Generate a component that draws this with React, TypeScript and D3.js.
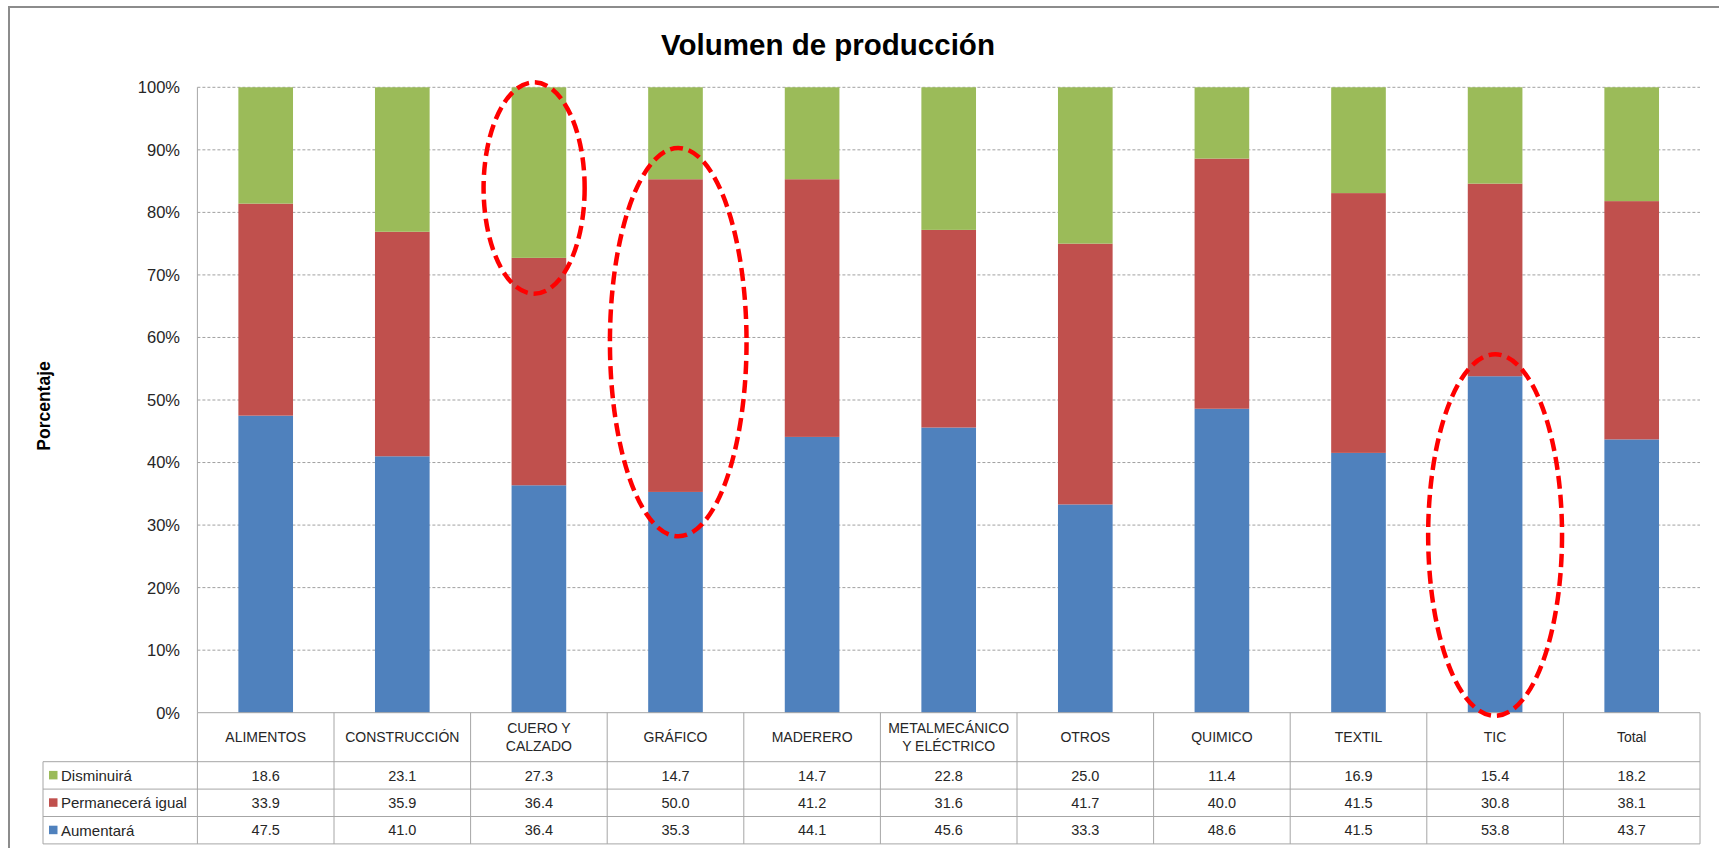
import React from "react";
import * as d3 from "d3";

// ---- Data ----
const categories = [
  "ALIMENTOS",
  "CONSTRUCCIÓN",
  "CUERO Y\nCALZADO",
  "GRÁFICO",
  "MADERERO",
  "METALMECÁNICO\nY ELÉCTRICO",
  "OTROS",
  "QUIMICO",
  "TEXTIL",
  "TIC",
  "Total",
];
const disminuira = [18.6, 23.1, 27.3, 14.7, 14.7, 22.8, 25.0, 11.4, 16.9, 15.4, 18.2];
const permanecera = [33.9, 35.9, 36.4, 50.0, 41.2, 31.6, 41.7, 40.0, 41.5, 30.8, 38.1];
const aumentara = [47.5, 41.0, 36.4, 35.3, 44.1, 45.6, 33.3, 48.6, 41.5, 53.8, 43.7];
const seriesNames = ["Disminuirá", "Permanecerá igual", "Aumentará"];
const yTicks = [0, 10, 20, 30, 40, 50, 60, 70, 80, 90, 100];

// highlighted regions (category index, percentage range)
const highlights = [
  { cat: 2, from: 67.0, to: 100.8, half: 0.37, shift: -0.035 },
  { cat: 3, from: 28.2, to: 90.3, half: 0.5, shift: 0.02 },
  { cat: 9, from: -0.5, to: 57.3, half: 0.49, shift: 0.0 },
];

const COLORS: Record<string, string> = {
  "Aumentará": "#4F81BD",
  "Permanecerá igual": "#C0504D",
  "Disminuirá": "#9BBB59",
};

const W = 1719;
const H = 848;
const FONT = "'Liberation Sans', Arial, sans-serif";

export default function App() {
  const plotLeft = 197.4;
  const plotRight = 1700;
  const yTop = 87.3;
  const yBottom = 712.7;
  const tableLeft = 43;
  const headerBottom = 761.7;
  const rowH = 27.4;

  const x = d3
    .scaleBand<number>()
    .domain(d3.range(categories.length))
    .range([plotLeft, plotRight])
    .paddingInner(0.6)
    .paddingOuter(0.3);
  const step = x.step();
  const y = d3.scaleLinear().domain([0, 100]).range([yBottom, yTop]);

  const rows = categories.map((c, i) => {
    const tot = aumentara[i] + permanecera[i] + disminuira[i];
    return {
      i,
      "Aumentará": (aumentara[i] / tot) * 100,
      "Permanecerá igual": (permanecera[i] / tot) * 100,
      "Disminuirá": (disminuira[i] / tot) * 100,
    };
  });
  const stack = d3
    .stack<any>()
    .keys(["Aumentará", "Permanecerá igual", "Disminuirá"]);
  const stacked = stack(rows);

  const tableSeries: { name: string; values: number[] }[] = [
    { name: seriesNames[0], values: disminuira },
    { name: seriesNames[1], values: permanecera },
    { name: seriesNames[2], values: aumentara },
  ];

  const colEdges = d3.range(categories.length + 1).map((k) => plotLeft + k * step);
  const gridColor = "#A6A6A6";
  const textColor = "#262626";

  return (
    <div style={{ position: "absolute", left: 0, top: 0, width: W, height: H, overflow: "hidden", background: "#fff" }}>
      <svg width={W} height={H} style={{ display: "block" }} fontFamily={FONT}>
        <rect x={0} y={0} width={W} height={H} fill="#fff" />
        {/* frame */}
        <rect x={9} y={7} width={W + 50} height={H + 50} fill="none" stroke="#8C8C8C" strokeWidth={2} />

        {/* title */}
        <text x={828} y={55} textAnchor="middle" fontSize={29.5} fontWeight="bold" fill="#000">
          Volumen de producción
        </text>

        {/* y label */}
        <text
          transform={`translate(50,${(yTop + yBottom) / 2 + 6}) rotate(-90)`}
          textAnchor="middle"
          fontSize={17.5}
          fontWeight="bold"
          fill="#000"
        >
          Porcentaje
        </text>

        {/* gridlines */}
        {yTicks.filter((t) => t > 0).map((t) => (
          <line
            key={"g" + t}
            x1={plotLeft}
            x2={plotRight}
            y1={y(t)}
            y2={y(t)}
            stroke="#A0A0A0"
            strokeWidth={1}
            strokeDasharray="3,2"
          />
        ))}

        {/* tick labels */}
        {yTicks.map((t) => (
          <text key={"t" + t} x={180} y={y(t)} dy="0.36em" textAnchor="end" fontSize={16.5} fill={textColor}>
            {t}%
          </text>
        ))}

        {/* bars */}
        {stacked.map((s) => (
          <g key={s.key} fill={COLORS[s.key]}>
            {s.map((d, i) => (
              <rect
                key={i}
                x={x(i)!}
                y={y(d[1])}
                width={x.bandwidth()}
                height={y(d[0]) - y(d[1])}
              />
            ))}
          </g>
        ))}

        {/* axis line */}
        <line x1={plotLeft} x2={plotLeft} y1={yTop} y2={yBottom} stroke={gridColor} strokeWidth={1} />

        {/* table */}
        <g stroke={gridColor} strokeWidth={1} fill="none">
          <line x1={plotLeft} x2={plotRight} y1={yBottom} y2={yBottom} />
          {[0, 1, 2, 3].map((r) => (
            <line key={"r" + r} x1={tableLeft} x2={plotRight} y1={headerBottom + r * rowH} y2={headerBottom + r * rowH} />
          ))}
          {colEdges.map((cx, k) => (
            <line key={"c" + k} x1={cx} x2={cx} y1={yBottom} y2={headerBottom + 3 * rowH} />
          ))}
          <line x1={tableLeft} x2={tableLeft} y1={headerBottom} y2={headerBottom + 3 * rowH} />
        </g>

        {/* header labels */}
        {categories.map((c, i) => {
          const lines = c.split("\n");
          const cx = x(i)! + x.bandwidth() / 2;
          const cy = (yBottom + headerBottom) / 2;
          const lh = 18.4;
          return (
            <text key={"h" + i} textAnchor="middle" fontSize={14} fill={textColor}>
              {lines.map((l, k) => (
                <tspan key={k} x={cx} y={cy + (k - (lines.length - 1) / 2) * lh} dy="0.36em">
                  {l}
                </tspan>
              ))}
            </text>
          );
        })}

        {/* data rows */}
        {tableSeries.map((s, r) => {
          const cy = headerBottom + (r + 0.5) * rowH;
          return (
            <g key={"row" + r}>
              <rect x={49} y={cy - 4.5} width={8.5} height={8.5} fill={COLORS[s.name]} />
              <text x={61} y={cy} dy="0.36em" fontSize={15} fill={textColor}>
                {s.name}
              </text>
              {s.values.map((v, i) => (
                <text
                  key={i}
                  x={x(i)! + x.bandwidth() / 2}
                  y={cy}
                  dy="0.36em"
                  textAnchor="middle"
                  fontSize={14.5}
                  fill={textColor}
                >
                  {v.toFixed(1)}
                </text>
              ))}
            </g>
          );
        })}

        {/* highlight ellipses */}
        {highlights.map((h, k) => {
          const cx = x(h.cat)! + x.bandwidth() / 2 + h.shift * step;
          const y1 = y(h.to);
          const y2 = y(h.from);
          return (
            <ellipse
              key={"e" + k}
              cx={cx}
              cy={(y1 + y2) / 2}
              rx={h.half * step}
              ry={(y2 - y1) / 2}
              fill="none"
              stroke="#FF0000"
              strokeWidth={4.5}
              strokeDasharray="13,6"
            />
          );
        })}
      </svg>
    </div>
  );
}
